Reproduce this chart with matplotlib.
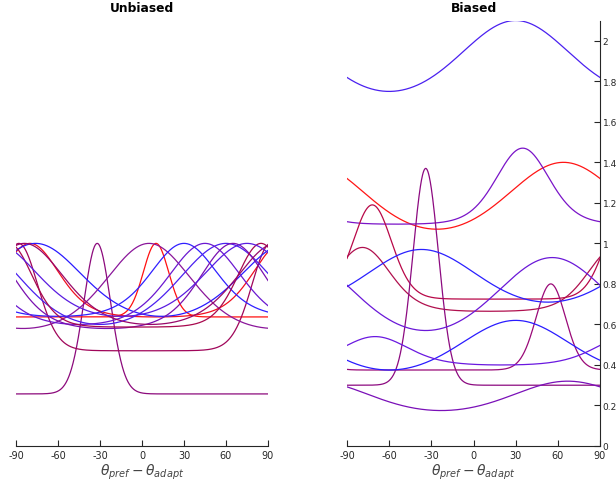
import numpy as np
import matplotlib
matplotlib.use("Agg")
import matplotlib.pyplot as plt

# tuning curves: preferred offset (deg), sharpness, min, max, colour
left_center = [-32, 10, -80, -88, -76, 5, 30, 60, 45, 65, 85, -84, 75]
left_kappa = [9, 10, 2, 4.5, 0.6, 0.8, 1.5, 0.6, 1.2, 1.5, 3, 1, 0.8]
left_lo = [0.257, 0.637, 0.637, 0.47, 0.64, 0.58, 0.64, 0.6, 0.6, 0.58, 0.587, 0.6, 0.64]
left_hi = [1.0] * 13
left_color = ["#8c0a7c", "#ff1010", "#f01020", "#a0065a", "#2a1aff", "#8a169a",
              "#3020ff", "#4a20f0", "#6a18d0", "#7a10b0", "#a8084e", "#98086a", "#5a1ce0"]

right_center = [30, 64, 35, -72, -79, -34, 55, 30, -70, 67, -37, 56]
right_kappa = [0.3, 0.3, 2.4, 4.4, 2.2, 10, 7.5, 0.3, 1.5, 0.3, 0.3, 0.3]
right_lo = [1.75, 1.07, 1.095, 0.725, 0.665, 0.30, 0.375, 0.375, 0.40, 0.175, 0.71, 0.57]
right_hi = [2.10, 1.40, 1.47, 1.19, 0.98, 1.37, 0.80, 0.62, 0.54, 0.32, 0.97, 0.93]
right_color = ["#4a20f0", "#ff1515", "#7a14c8", "#b80848", "#b0104e", "#8c0a80",
               "#9a0a78", "#2a1cff", "#6a18e0", "#7a10b8", "#2a20ff", "#6a18d8"]

x_ticks = [-90, -60, -30, 0, 30, 60, 90]
y_ticks = [0, 0.2, 0.4, 0.6, 0.8, 1, 1.2, 1.4, 1.6, 1.8, 2]
y_labels = ["0", "0.2", "0.4", "0.6", "0.8", "1", "1.2", "1.4", "1.6", "1.8", "2"]

theta = np.linspace(-90, 90, 721)


def tuning(center, kappa, lo, hi):
    d = np.deg2rad(2 * (theta - center))
    g = np.exp(kappa * (np.cos(d) - 1))
    gmin = np.exp(-2 * kappa)
    g = (g - gmin) / (1 - gmin)
    return lo + (hi - lo) * g


fig = plt.figure(figsize=(6.16, 4.85), dpi=100)
ax1 = fig.add_axes([16 / 616, 1 - 447 / 485, 252 / 616, (447 - 21.5) / 485])
ax2 = fig.add_axes([347 / 616, 1 - 447 / 485, 253 / 616, (447 - 21.5) / 485])

for i in range(len(left_center)):
    ax1.plot(theta, tuning(left_center[i], left_kappa[i], left_lo[i], left_hi[i]),
             color=left_color[i], lw=0.9)
for i in range(len(right_center)):
    ax2.plot(theta, tuning(right_center[i], right_kappa[i], right_lo[i], right_hi[i]),
             color=right_color[i], lw=0.9)

grey = "#262626"
for ax in (ax1, ax2):
    ax.set_xlim(-90, 90)
    ax.set_ylim(0, 2.1)
    ax.set_xticks(x_ticks)
    ax.set_xticklabels([str(t) for t in x_ticks])
    ax.spines["top"].set_visible(False)
    ax.spines["bottom"].set_color(grey)
    ax.tick_params(axis="x", direction="in", length=4, width=0.8, colors=grey,
                   labelsize=7, pad=3)
    ax.set_xlabel(r"$\theta_{pref} - \theta_{adapt}$", fontsize=10, color="#444444", labelpad=1)

ax1.spines["left"].set_visible(False)
ax1.spines["right"].set_visible(False)
ax1.set_yticks([])
ax1.set_title("Unbiased", fontsize=8.8, fontweight="bold", pad=7)

ax2.spines["left"].set_visible(False)
ax2.spines["right"].set_color(grey)
ax2.yaxis.tick_right()
ax2.set_yticks(y_ticks)
ax2.set_yticklabels(y_labels)
ax2.tick_params(axis="y", direction="in", length=4, width=0.8, colors=grey,
                labelsize=6.5, pad=2)
ax2.set_title("Biased", fontsize=8.8, fontweight="bold", pad=7)

fig.savefig("out.png", dpi=100)
